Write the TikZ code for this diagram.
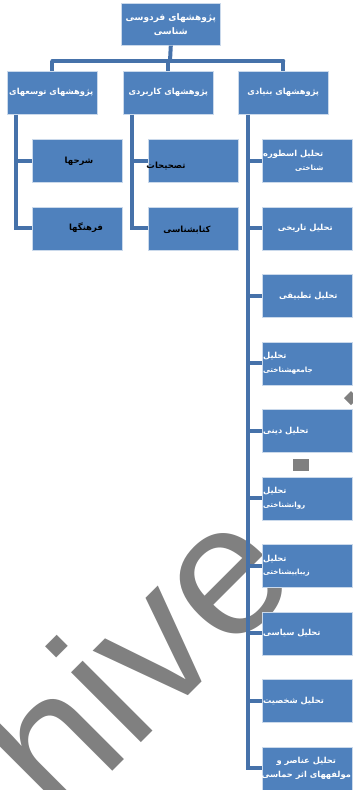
\documentclass[tikz,border=0pt]{standalone}
\usepackage{fontspec}
\newfontfamily\fa[Script=Arabic]{DejaVu Sans}
\newfontfamily\wm{Liberation Sans}
\TeXXeTstate=1
\newcommand{\rl}[1]{\beginR #1\endR}
\definecolor{boxblue}{HTML}{4F81BD}
\definecolor{linkblue}{HTML}{4672AA}
\definecolor{wmgray}{HTML}{808080}
\begin{document}
\begin{tikzpicture}[x=1pt,y=-1pt,
  box/.style={rectangle, fill=boxblue, draw=white!70!boxblue, line width=0.6pt,
    minimum width=90pt, minimum height=43pt, inner sep=0pt, anchor=north west},
  wtxt/.style={text=white, font=\fa\bfseries\fontsize{8.3}{13.5}\selectfont, inner sep=0pt},
  btxt/.style={text=black, font=\fa\bfseries\fontsize{8.5}{13.5}\selectfont, inner sep=0pt},
  link/.style={draw=linkblue, line width=4pt},
]
\useasboundingbox (0,0) rectangle (353,790);
\begin{scope}
\clip (0,0) rectangle (353,790);
\node[text=wmgray, font=\wm\fontsize{187}{187}\selectfont, rotate=45, anchor=base west, inner sep=0pt] (wm) at (59,825) {hive};
\fill[wmgray] (293,459) rectangle (309,471);
\fill[wmgray] (351,391) -- (358,398) -- (351,405) -- (344,398) -- cycle;
\end{scope}

% top
\node[box, minimum width=99pt, minimum height=42pt] (top) at (121,3) {};
\node[wtxt, font=\fa\bfseries\fontsize{9}{14}\selectfont, align=center] (ttop) at (top.center) {\rl{پژوهشهای فردوسی}\\\rl{شناسی}};

% level 2
\node[box] (La) at (7,71) {};
\node[box] (Lb) at (123,71) {};
\node[box] (Lc) at (238,71) {};
\node[wtxt] (tLa) at ([xshift=-1pt]La.center) {\rl{پژوهشهای توسعهای}};
\node[wtxt] (tLb) at (Lb.center) {\rl{پژوهشهای کاربردی}};
\node[wtxt] (tLc) at (Lc.center) {\rl{پژوهشهای بنیادی}};

% left column
\node[box] (A1) at (32,139) {};
\node[box] (A2) at (32,206.5) {};
\node[btxt] (tA1) at (79,161) {\rl{شرحها}};
\node[btxt] (tA2) at (86,228) {\rl{فرهنگها}};

% middle column
\node[box] (B1) at (148,139) {};
\node[box] (B2) at (148,206.5) {};
\node[btxt] (tB1) at (166,166) {\rl{تصحیحات}};
\node[btxt] (tB2) at (187,230) {\rl{کتابشناسی}};

% right column
\foreach \i in {1,...,10}{
  \node[box] (C\i) at (262,{139+67.5*(\i-1)}) {};
}
\node[wtxt, align=right, anchor=west] (tC1) at ([xshift=1pt]C1.west) {\rl{تحلیل اسطوره}\\{\fontsize{7.2}{13.5}\selectfont\rl{شناختی}}};
\node[wtxt] (tC2) at ([xshift=-2pt]C2.center) {\rl{تحلیل تاریخی}};
\node[wtxt] (tC3) at ([xshift=1pt]C3.center) {\rl{تحلیل تطبیقی}};
\node[wtxt, align=left, anchor=west] (tC4) at ([xshift=1pt]C4.west) {\rl{تحلیل}\\{\fontsize{7.2}{13.5}\selectfont\rl{جامعهشناختی}}};
\node[wtxt, anchor=west] (tC5) at ([xshift=1pt]C5.west) {\rl{تحلیل دینی}};
\node[wtxt, align=left, anchor=west] (tC6) at ([xshift=1pt]C6.west) {\rl{تحلیل}\\{\fontsize{7.2}{13.5}\selectfont\rl{روانشناختی}}};
\node[wtxt, align=left, anchor=west] (tC7) at ([xshift=1pt]C7.west) {\rl{تحلیل}\\{\fontsize{7.2}{13.5}\selectfont\rl{زیباییشناختی}}};
\node[wtxt, anchor=west] (tC8) at ([xshift=1pt]C8.west) {\rl{تحلیل سیاسی}};
\node[wtxt, anchor=west] (tC9) at ([xshift=1pt]C9.west) {\rl{تحلیل شخصیت}};
\node[wtxt, align=center] (tC10) at ([xshift=-1pt]C10.center) {\rl{تحلیل عناصر و}\\\rl{مولفههای اثر حماسی}};

% connectors
\coordinate (hub) at (170,61);
\draw[link] (top.south) -- (hub);
\draw[link, line cap=round] (hub -| La.north) -- (hub -| Lc.north);
\draw[link] (hub -| La.north) -- (La.north);
\draw[link] (hub -| Lb.north) -- (Lb.north);
\draw[link] (hub -| Lc.north) -- (Lc.north);

\coordinate (ca) at (16,0);
\coordinate (cb) at (132,0);
\coordinate (cc) at (248,0);
\draw[link] (La.south -| ca) |- (A2.west);
\draw[link] (A1.west -| ca) -- (A1.west);
\draw[link] (Lb.south -| cb) |- (B2.west);
\draw[link] (B1.west -| cb) -- (B1.west);
\draw[link] (Lc.south -| cc) |- (C10.west);
\foreach \i in {1,...,9}{
  \draw[link] (C\i.west -| cc) -- (C\i.west);
}
\end{tikzpicture}
\end{document}
